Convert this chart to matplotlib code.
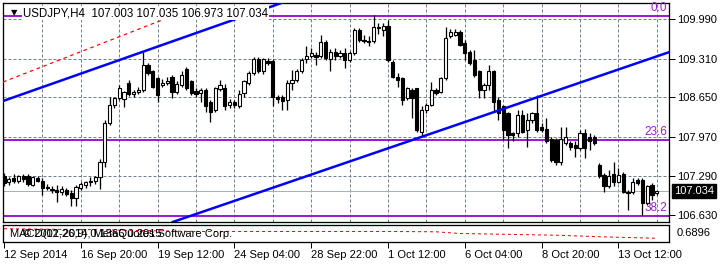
import matplotlib
matplotlib.use("Agg")
import matplotlib.pyplot as plt
from matplotlib.patches import Rectangle

# USDJPY H4 candles (bar index 0 = 12 Sep 2014)
opens = [107.30, 107.20, 107.26, 107.22, 107.29, 107.30, 107.15, 107.27, 107.22, 107.11,
         107.08, 107.06, 107.02, 107.06, 107.00, 106.92, 107.10, 107.14, 107.20, 107.22,
         107.28, 107.54, 108.20, 108.52, 108.63, 108.62, 108.90, 108.70, 108.74, 108.77,
         109.20, 109.09, 108.97, 108.86, 108.90, 109.00, 108.74, 108.86, 109.14, 108.92,
         108.75, 108.72, 108.77, 108.57, 108.43, 108.79, 108.80, 108.52, 108.56, 108.49,
         108.72, 108.90, 109.06, 109.30, 109.09, 109.27, 109.27, 108.66, 108.65, 108.60,
         108.89, 108.94, 109.09, 109.30, 109.36, 109.37, 109.35, 109.60, 109.30, 109.43,
         109.36, 109.40, 109.29, 109.40, 109.80, 109.63, 109.62, 109.62, 109.86, 109.80,
         109.87, 109.26, 109.00, 108.97, 108.63, 108.77, 108.80, 108.06, 108.43, 108.52,
         108.77, 108.74, 108.97, 109.69, 109.72, 109.77, 109.57, 109.43, 109.29, 109.09,
         108.77, 108.86, 109.09, 108.60, 108.49, 108.37, 108.03, 108.03, 108.34, 108.09,
         108.26, 108.37, 108.14, 108.11, 107.94, 107.92, 107.54, 107.86, 107.86, 107.83,
         107.77, 108.03, 107.97, 107.97, 107.49, 107.32, 107.12, 107.34, 107.20, 107.34,
         107.03, 107.03, 107.23, 107.23, 106.83, 107.14, 107.003]
highs = [107.35, 107.28, 107.34, 107.31, 107.33, 107.33, 107.30, 107.30, 107.26, 107.16,
         107.12, 107.15, 107.12, 107.10, 107.05, 107.14, 107.19, 107.22, 107.28, 107.30,
         107.59, 108.26, 108.66, 108.66, 108.85, 108.75, 108.94, 108.78, 108.82, 109.43,
         109.24, 109.12, 109.00, 108.96, 108.99, 109.03, 108.92, 109.09, 109.16, 108.95,
         108.80, 108.80, 108.80, 108.60, 108.83, 108.94, 108.88, 108.62, 108.60, 108.77,
         108.95, 109.09, 109.33, 109.33, 109.32, 109.32, 109.30, 108.69, 108.68, 108.94,
         109.11, 109.14, 109.32, 109.52, 109.50, 109.43, 109.72, 109.63, 109.47, 109.49,
         109.45, 109.49, 109.44, 109.83, 109.84, 109.72, 109.69, 110.06, 109.92, 109.92,
         109.97, 109.29, 109.06, 109.00, 108.83, 108.80, 108.80, 108.49, 108.55, 108.91,
         108.80, 109.00, 109.86, 109.82, 109.82, 109.80, 109.63, 109.46, 109.46, 109.12,
         108.89, 109.20, 109.12, 108.66, 108.52, 108.40, 108.06, 108.43, 108.43, 108.37,
         108.40, 108.69, 108.20, 108.29, 107.97, 107.95, 108.14, 108.14, 107.89, 107.89,
         108.09, 108.11, 108.03, 108.00, 107.52, 107.35, 107.40, 107.54, 107.43, 107.37,
         107.06, 107.26, 107.26, 107.26, 107.14, 107.17, 107.035]
lows = [107.13, 107.15, 107.18, 107.18, 107.20, 107.13, 107.12, 107.19, 106.97, 107.06,
        107.00, 106.86, 106.98, 106.95, 106.78, 106.78, 107.05, 107.09, 107.13, 107.16,
        107.08, 107.46, 108.17, 108.46, 108.60, 108.48, 108.67, 108.65, 108.70, 108.74,
        109.03, 108.80, 108.57, 108.82, 108.85, 108.63, 108.70, 108.83, 108.78, 108.68,
        108.66, 108.57, 108.40, 108.23, 108.40, 108.76, 108.43, 108.46, 108.46, 108.46,
        108.66, 108.85, 109.03, 109.06, 109.05, 109.20, 108.49, 108.55, 108.43, 108.43,
        108.77, 108.91, 109.06, 109.23, 109.32, 109.20, 109.32, 109.29, 109.09, 109.29,
        109.32, 109.15, 109.26, 109.37, 109.60, 109.57, 109.52, 109.57, 109.74, 109.69,
        109.26, 108.97, 108.83, 108.52, 108.60, 108.29, 108.06, 107.97, 108.37, 108.49,
        108.69, 108.72, 108.94, 109.66, 109.69, 109.52, 109.29, 109.20, 109.00, 108.63,
        108.63, 108.77, 108.40, 108.26, 107.92, 107.77, 107.89, 107.97, 108.03, 107.80,
        108.20, 108.06, 108.06, 107.86, 107.54, 107.49, 107.49, 107.83, 107.74, 107.63,
        107.74, 107.60, 107.74, 107.83, 107.26, 107.03, 107.09, 107.12, 107.17, 107.00,
        106.72, 106.99, 107.14, 106.63, 106.80, 106.88, 106.973]
closes = [107.17, 107.25, 107.22, 107.29, 107.24, 107.16, 107.28, 107.22, 107.10, 107.09,
          107.05, 107.02, 107.07, 106.99, 106.92, 107.11, 107.16, 107.20, 107.22, 107.28,
          107.54, 108.20, 108.52, 108.63, 108.80, 108.74, 108.70, 108.74, 108.77, 109.20,
          109.06, 108.83, 108.69, 108.90, 108.93, 108.74, 108.88, 109.03, 108.80, 108.72,
          108.70, 108.77, 108.49, 108.40, 108.80, 108.86, 108.50, 108.57, 108.52, 108.71,
          108.92, 109.06, 109.30, 109.09, 109.30, 109.23, 108.66, 108.61, 108.58, 108.89,
          108.94, 109.09, 109.29, 109.36, 109.40, 109.33, 109.60, 109.32, 109.43, 109.36,
          109.40, 109.29, 109.40, 109.80, 109.63, 109.62, 109.60, 109.86, 109.83, 109.87,
          109.29, 109.00, 108.95, 108.60, 108.80, 108.63, 108.09, 108.43, 108.52, 108.77,
          108.72, 108.97, 109.66, 109.76, 109.77, 109.54, 109.40, 109.23, 109.03, 108.77,
          108.86, 109.09, 108.57, 108.37, 108.09, 108.00, 108.00, 108.34, 108.06, 108.26,
          108.37, 108.09, 108.09, 107.89, 107.57, 107.54, 107.94, 107.97, 107.80, 107.77,
          108.03, 107.77, 107.89, 107.86, 107.29, 107.12, 107.29, 107.20, 107.32, 107.03,
          107.00, 107.20, 107.17, 106.83, 107.12, 106.97, 107.034]

price_ticks = [109.990, 109.310, 108.650, 107.970, 107.290, 106.630]
grid_bars = [8, 16, 24, 32, 40, 48, 56, 64, 72, 80, 88, 96, 104, 112, 120, 128, 136]
time_bars = [0, 16, 32, 48, 64, 80, 96, 112, 128]
time_labels = ["12 Sep 2014", "16 Sep 20:00", "19 Sep 12:00", "24 Sep 04:00",
               "28 Sep 22:00", "1 Oct 12:00", "6 Oct 04:00", "8 Oct 20:00", "13 Oct 12:00"]
fib_levels = [110.04, 107.915, 106.61]
fib_labels = ["0.0", "23.6", "38.2"]
upper_channel = [(0, 108.59), (29, 109.43)]
lower_channel = [(87, 107.97), (138.5, 109.42)]
red_segment_x = [-0.2, 33.5]
red_segment_y = [108.91, 109.99]
bid = 107.034
title = "USDJPY,H4  107.003 107.035 106.973 107.034"
# MACD signal line in the sub-window (0 = bottom, 1 = top of the pane)
macd_x = [0, 20, 40, 60, 80, 90, 95, 105, 115, 125, 136]
macd_y = [0.78, 0.72, 0.62, 0.62, 0.62, 0.6, 0.5, 0.45, 0.4, 0.3, 0.22]

W, H = 720, 264
plt.rcParams["font.family"] = ["Liberation Sans", "DejaVu Sans"]
plt.rcParams["font.size"] = 8
PX = 0.72  # one pixel in points at dpi 100
PURPLE = "#9a1ed0"


def px_box(x0, y0, x1, y1):
    return [x0 / W, 1 - y1 / H, (x1 - x0) / W, (y1 - y0) / H]


fig = plt.figure(figsize=(W / 100, H / 100), dpi=100)
ax = fig.add_axes(px_box(3, 3, 669, 222))
sub = fig.add_axes(px_box(3, 225, 669, 242))

xlim = (-0.21, 138.54)
ax.set_xlim(*xlim)
ax.set_ylim(106.510, 110.264)

grid_kw = dict(color="#708090", lw=PX, ls=(0, (3, 2)), zorder=1)
for p in price_ticks:
    ax.axhline(p, **grid_kw)
for b in grid_bars:
    ax.axvline(b, **grid_kw)

ax.axhline(bid, color="#a8b0b8", lw=PX, zorder=1.5)

for lvl in fib_levels:
    ax.axhline(lvl, color=PURPLE, lw=2 * PX, zorder=2)
for lvl, lab in zip(fib_levels, fib_labels):
    ax.annotate(lab, xy=(1, lvl), xycoords=("axes fraction", "data"), xytext=(-1.5, 1.5),
                textcoords="offset points", ha="right", va="bottom", color=PURPLE,
                fontsize=8.5)

for i, (o, h, l, c) in enumerate(zip(opens, highs, lows, closes)):
    ax.vlines(i, l, h, color="black", lw=PX * 1.3, zorder=3)
    lo, hi = min(o, c), max(o, c)
    face = "white" if c >= o else "black"
    ax.add_patch(Rectangle((i - 0.33, lo), 0.66, max(hi - lo, 0.006), facecolor=face,
                           edgecolor="black", lw=PX * 1.1, zorder=4))

ax.axline(*upper_channel, color="#0000ff", lw=2.5 * PX, zorder=5)
ax.axline(*lower_channel, color="#0000ff", lw=2.5 * PX, zorder=5)
ax.plot(red_segment_x, red_segment_y, color="#ff0000", lw=PX * 1.2, ls=(0, (3, 3)), zorder=5)

ax.text(20 / 666, 1 - 10 / 219, title, transform=ax.transAxes, ha="left", va="center",
        zorder=10, fontsize=8.3, bbox=dict(boxstyle="square,pad=0.1", fc="white", ec="none"))
ax.text(11 / 666, 1 - 9.5 / 219, "\u25bc", transform=ax.transAxes, ha="center", va="center",
        fontsize=6, family="DejaVu Sans", zorder=10)

ax.yaxis.tick_right()
ax.set_yticks(price_ticks)
ax.set_yticklabels([f"{p:.3f}" for p in price_ticks])
ax.tick_params(axis="y", length=4, width=PX, pad=2, labelsize=8)
ax.set_xticks([])
ax.annotate(f"{bid:.3f}", xy=(1, bid), xycoords=("axes fraction", "data"), xytext=(3.5, 0),
            textcoords="offset points", ha="left", va="center", color="white",
            bbox=dict(boxstyle="square,pad=0.18", fc="black", ec="black"))
for s in ax.spines.values():
    s.set_linewidth(PX * 1.3)

# MACD sub-window
sub.set_xlim(*xlim)
sub.set_ylim(0, 1)
sub.set_yticks([])
sub.set_xticks(time_bars)
sub.set_xticklabels(time_labels, ha="left")
sub.tick_params(axis="x", length=4, width=PX, pad=2, labelsize=8)
for s in sub.spines.values():
    s.set_linewidth(PX * 1.3)
sub.plot(macd_x, macd_y, color="#ff0000", lw=PX, ls=(0, (3, 3)))
sub.text(0.01, 0.45, "MACD(12,26,9) 0.1366 0.2015", transform=sub.transAxes, va="center",
         fontsize=8)
sub.text(0.03, 0.45, "\u00a9 2001-2014, MetaQuotes Software Corp.", transform=sub.transAxes,
         va="center", fontsize=8)
sub.text(1.012, 0.5, "0.6896", transform=sub.transAxes, va="center", fontsize=8)

fig.savefig("out.png", dpi=100)
